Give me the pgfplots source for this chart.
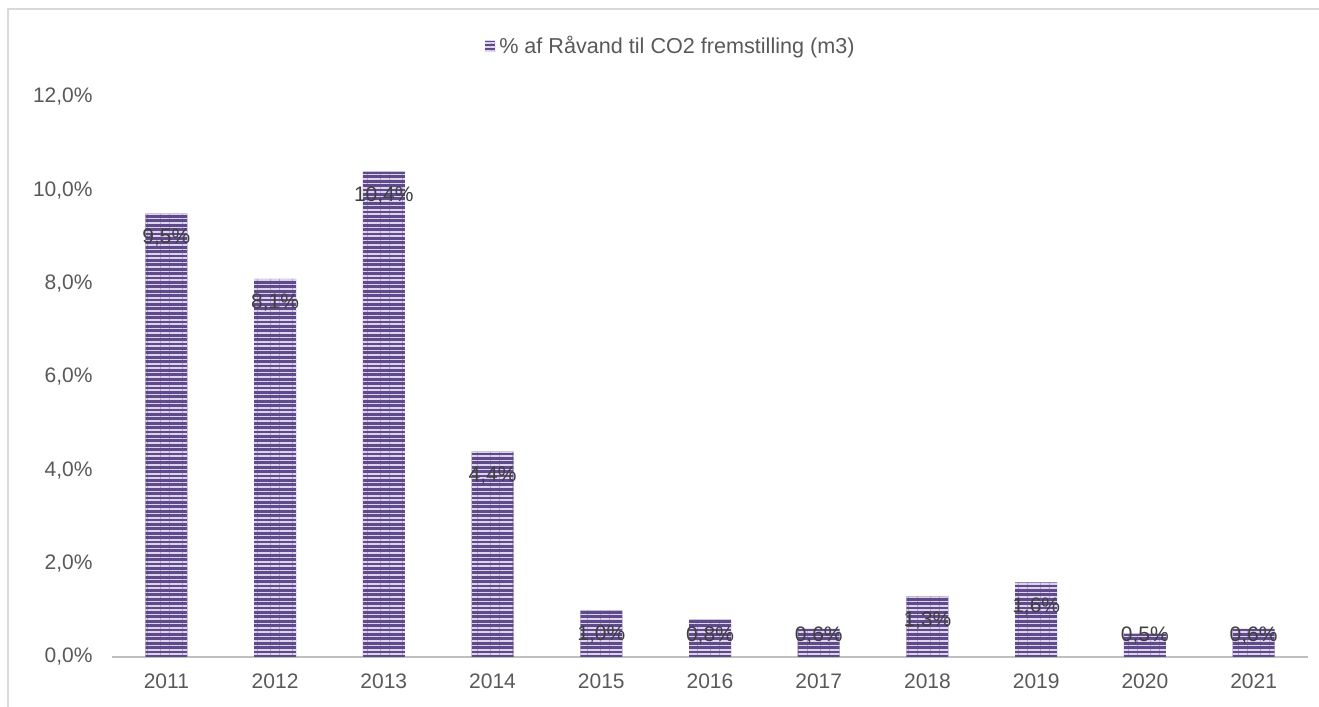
\documentclass[border=0pt]{standalone}
\usepackage{pgfplots}
\pgfplotsset{compat=1.18}
\usepackage{pgfplotstable}
\usepackage{fontspec}
\setmainfont{Liberation Sans}
\usetikzlibrary{patterns.meta}
\definecolor{barpurple}{HTML}{5F4B8B}
\definecolor{stripe}{HTML}{DDD3EA}
\definecolor{ticktext}{HTML}{595959}
\definecolor{labeltext}{HTML}{404040}
\definecolor{axisgray}{HTML}{BFBFBF}
\definecolor{framegray}{HTML}{D9D9D9}
\newcommand\chartfont{\fontsize{10.5pt}{12.6pt}\selectfont}
\newcommand\legendfont{\fontsize{10.8pt}{13pt}\selectfont}
\pgfplotstableread{
x y ly
0 9.5 8.986
1 8.1 7.586
2 10.4 9.886
3 4.4 3.886
4 1.0 0.486
5 0.8 0.471
6 0.6 0.471
7 1.3 0.786
8 1.6 1.086
9 0.5 0.471
10 0.6 0.471
}\datatable
\begin{document}
\begin{tikzpicture}
\useasboundingbox (0,0) rectangle (659.5pt,353.5pt);
\draw[framegray, line width=1pt] (4pt,0) -- (4pt,349pt) -- (659.5pt,349pt);
\begin{axis}[
  at={(56pt,25pt)}, anchor=south west,
  scale only axis, width=598pt, height=280pt,
  xmin=-0.5, xmax=10.5, ymin=0, ymax=12,
  axis x line=bottom, axis y line=left,
  axis line style={-},
  x axis line style={axisgray, line width=1.2pt},
  y axis line style={draw=none},
  major tick length=0pt,
  xtick={0,1,...,10},
  xticklabels={2011,2012,2013,2014,2015,2016,2017,2018,2019,2020,2021},
  ytick={0,2,...,12},
  /pgf/number format/assume math mode=true,
  yticklabel={\pgfmathprintnumber[fixed,fixed zerofill,precision=1,use comma]{\tick}\%},
  ticklabel style={font=\chartfont, text=ticktext, inner sep=0pt},
  yticklabel style={anchor=east, xshift=-9.5pt},
  xticklabel style={anchor=base, yshift=-16pt},
  legend style={at={(0.468,1.091)}, anchor=center, draw=none, fill=none, font=\legendfont, text=ticktext, inner sep=0pt},
  legend image code/.code={
    \fill[barpurple] (0pt,-2.6pt) rectangle (5.2pt,2.6pt);
    \fill[pattern={Lines[angle=0,distance=1.7pt,line width=0.5pt]}, pattern color=stripe] (0pt,-2.6pt) rectangle (5.2pt,2.6pt);
  },
]
\addplot[ybar, bar width=21pt, fill=barpurple, draw=none,
  postaction={pattern={Lines[angle=0,distance=2.2pt,line width=0.75pt]}, pattern color=stripe}]
  table[x=x, y=y] {\datatable};
\addplot[draw=none, mark=none, forget plot, point meta=explicit,
  nodes near coords={\pgfmathprintnumber[fixed,fixed zerofill,precision=1,use comma]{\pgfplotspointmeta}\%},
  every node near coord/.append style={anchor=center, font=\chartfont, text=labeltext, inner sep=0pt}]
  table[x=x, y=ly, meta=y] {\datatable};
\legend{\% af Råvand til CO2 fremstilling (m3)}
\end{axis}
\end{tikzpicture}
\end{document}
